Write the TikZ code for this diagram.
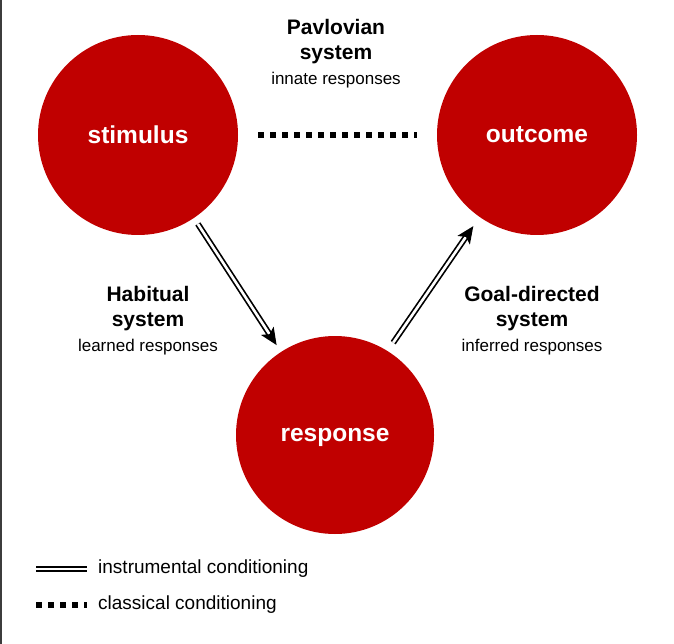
\documentclass[tikz,border=0pt]{standalone}
\usepackage{fontspec}
\setmainfont{Liberation Sans}
\usepackage{xcolor}
\usetikzlibrary{arrows.meta, positioning}

\definecolor{circred}{RGB}{192,0,0}
\definecolor{framegray}{RGB}{60,60,60}

\tikzset{
    circ/.style={circle, fill=circred, text=white, inner sep=0pt, text depth=0pt,
        minimum size=200pt, font=\fontsize{24.5}{28}\selectfont\bfseries},
    sysname/.style={anchor=base, inner sep=0pt, font=\fontsize{21}{25}\selectfont\bfseries},
    sysnote/.style={anchor=base, inner sep=0pt, font=\fontsize{17}{20}\selectfont},
    legtext/.style={anchor=west, inner sep=0pt, font=\fontsize{19}{22}\selectfont},
    instr/.style={double=white, double distance=2.6pt, line width=1.7pt,
        -{Stealth[length=17pt, width=15pt, inset=4pt]}},
    instrleg/.style={double=white, double distance=2.4pt, line width=1.8pt},
    classic/.style={line width=5.5pt, dash pattern=on 5.5pt off 6.5pt}
}

\begin{document}
\begin{tikzpicture}[x=1pt, y=-1pt]
    % Frame
    \useasboundingbox (0,0) rectangle (674,644);
    \draw[framegray, line width=1.5pt] (0.75,0) -- (0.75,644);

    % Circles
    \node[circ] (stim) at (138,135) {stimulus};
    \node[circ] (outc) at (537,135) {outcome};
    \node[circ, minimum size=198pt] (resp) at (335,435) {response};

    % Connectors
    \draw[classic, shorten <=20pt, shorten >=20pt] (stim) -- (outc);
    \draw[instr, shorten <=7pt, shorten >=8pt] (stim.-56) -- (resp.123);
    \draw[instr, shorten <=10pt, shorten >=11pt] (resp.58) -- (outc.-125);

    % Systems
    \node[sysname] (pav1) at (336,35) {Pavlovian};
    \node[sysname] (pav2) at (336,60) {system};
    \node[sysnote] (pav3) at (336,85) {innate responses};

    \node[sysname] (hab1) at (148,301) {Habitual};
    \node[sysname] (hab2) at (148,326) {system};
    \node[sysnote] (hab3) at (148,351) {learned responses};

    \node[sysname] (goal1) at (532,301) {Goal-directed};
    \node[sysname] (goal2) at (532,326) {system};
    \node[sysnote] (goal3) at (532,351) {inferred responses};

    % Legend
    \coordinate (la) at (36,569);
    \coordinate (lb) at (87,569);
    \coordinate (lc) at (36,605);
    \coordinate (ld) at (87,605);
    \draw[instrleg] (la) -- (lb);
    \draw[classic] (lc) -- (ld);
    \node[legtext] (leg1) at (98,569) {instrumental conditioning};
    \node[legtext] (leg2) at (98,605) {classical conditioning};
\end{tikzpicture}
\end{document}
